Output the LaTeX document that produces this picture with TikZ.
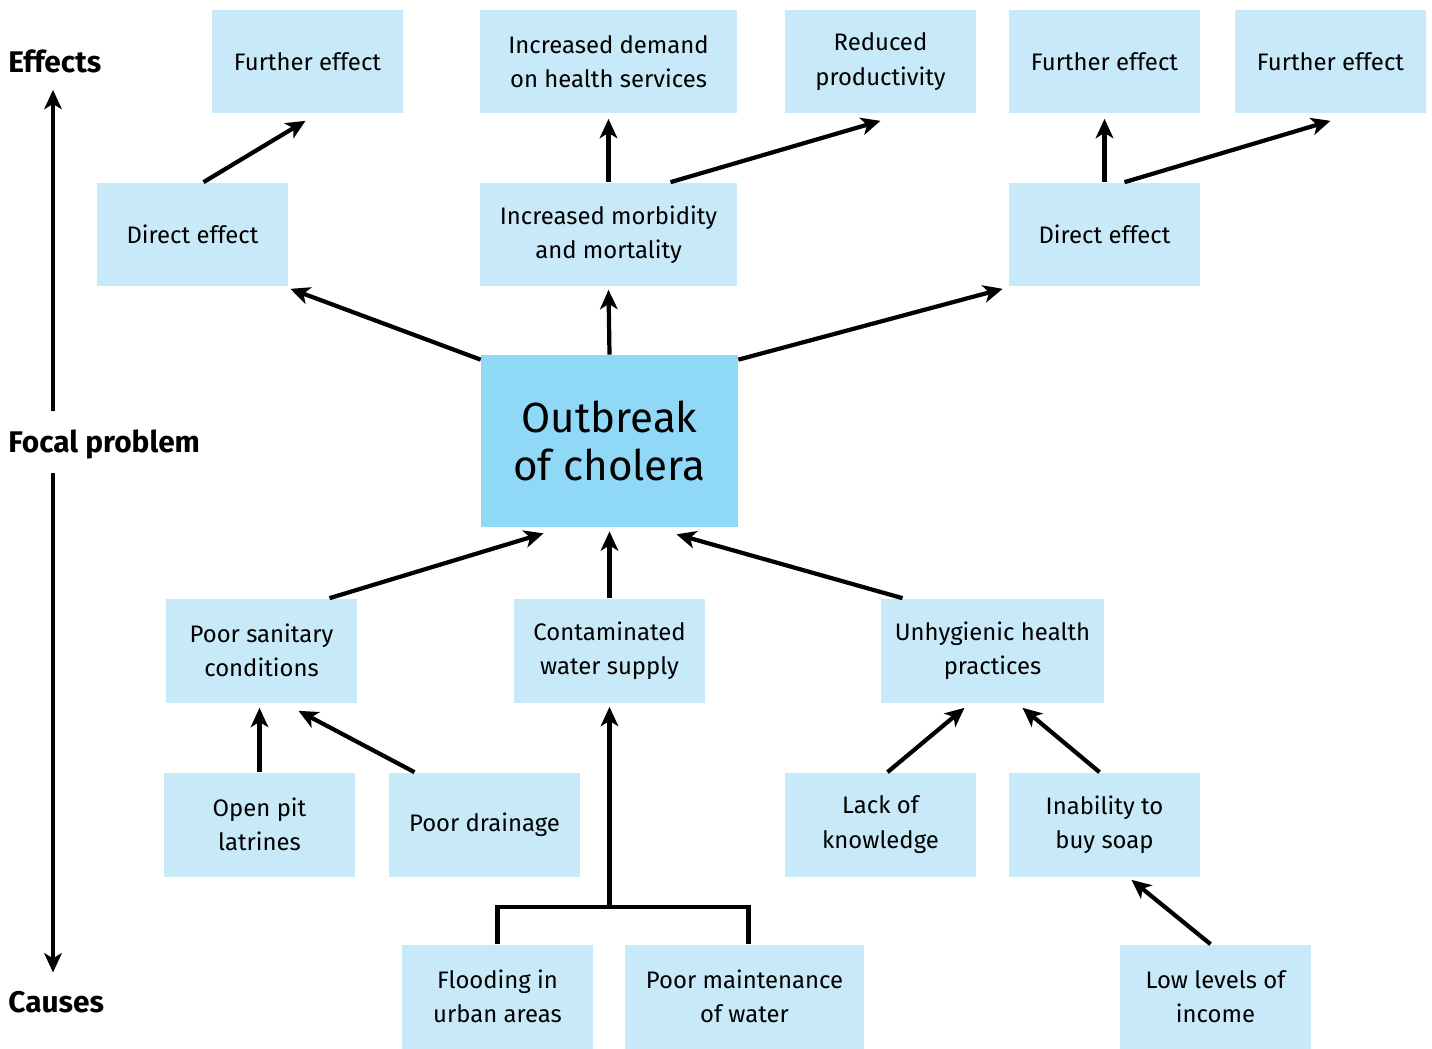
\documentclass[tikz,border=0pt]{standalone}
\usepackage{fontspec}
\setmainfont{Fira Sans}
\usetikzlibrary{calc,arrows.meta}
\definecolor{boxblue}{RGB}{199,233,248}
\definecolor{focusblue}{RGB}{143,216,246}

\begin{document}
\begin{tikzpicture}[x=0.02cm,y=-0.02cm,
  box/.style={fill=boxblue,minimum width=3.82cm,minimum height=2.08cm,align=center,inner sep=0pt,font=\fontsize{13.6}{19.5}\selectfont},
  widebox/.style={box,minimum width=5.14cm},
  focus/.style={fill=focusblue,minimum width=5.14cm,minimum height=3.44cm,align=center,inner sep=0pt,font=\fontsize{24}{27.5}\selectfont},
  arr/.style={-{Stealth[length=11pt,width=10pt,inset=3pt]},line width=2.4pt},
  side/.style={anchor=base west,inner sep=0pt,font=\fontsize{17}{20}\selectfont\bfseries}]
\useasboundingbox (0,0) rectangle (1432,1048);

% side axis
\node[side] (effects) at (8,72) {Effects};
\node[side] (focal) at (8,452) {Focal problem};
\node[side] (causes) at (8,1012) {Causes};
\draw[arr] ($(focal.north west)+(45,-18)$) -- ($(effects.south west)+(45,17)$);
\draw[arr] ($(focal.south west)+(45,14)$) -- ($(causes.north west)+(45,-18)$);

% effects
\node[box] (fea) at (307.5,61.5) {Further effect};
\node[widebox] (dem) at (608.5,61.5) {Increased demand\\on health services};
\node[box] (red) at (880.5,61.5) {Reduced\\productivity};
\node[box] (feb) at (1104.5,61.5) {Further effect};
\node[box] (fec) at (1330.5,61.5) {Further effect};
\node[box] (del) at (192.5,234.5) {Direct effect};
\node[widebox] (im) at (608.5,234.5) {Increased morbidity\\and mortality};
\node[box] (der) at (1104.5,234.5) {Direct effect};

% focal problem
\node[focus] (ob) at (609.5,441) {Outbreak\\of cholera};

% causes
\node[box] (san) at (261.5,650.5) {Poor sanitary\\conditions};
\node[box] (con) at (609.5,650.5) {Contaminated\\water supply};
\node[box,minimum width=4.46cm] (unh) at (992.5,650.5) {Unhygienic health\\practices};
\node[box] (pit) at (259.5,824.5) {Open pit\\latrines};
\node[box] (drn) at (484.5,824.5) {Poor drainage};
\node[box] (lack) at (880.5,824.5) {Lack of\\knowledge};
\node[box] (inab) at (1104.5,824.5) {Inability to\\buy soap};
\node[box] (fld) at (497.5,996.5) {Flooding in\\urban areas};
\node[box,minimum width=4.78cm] (mnt) at (744.5,996.5) {Poor maintenance\\of water};
\node[box] (low) at (1215.5,996.5) {Low levels of\\income};

% effect links
\draw[arr] ($(del.north)+(11,0)$) -- ($(fea.south)+(-2,7)$);
\draw[arr] (im.north) -- ($(dem.south)+(0,5)$);
\draw[arr] ($(im.north)+(62,0)$) -- ($(red.south)+(0,7)$);
\draw[arr] (der.north) -- ($(feb.south)+(0,5)$);
\draw[arr] ($(der.north)+(20,0)$) -- ($(fec.south)+(0,7)$);
\draw[arr] ($(ob.north west)+(0,5)$) -- ($(del.south east)+(2,2)$);
\draw[arr] (ob.north) -- ($(im.south)+(0,3)$);
\draw[arr] ($(ob.north east)+(0,5)$) -- ($(der.south west)+(-6,2)$);

% cause links
\draw[arr] ($(san.north)+(68,0)$) -- ($(ob.south)+(-66,6)$);
\draw[arr] (con.north) -- ($(ob.south)+(0,4)$);
\draw[arr] ($(unh.north)+(-90,0)$) -- ($(ob.south)+(67,7)$);
\draw[arr] (pit.north) -- ($(san.south)+(-2,5)$);
\draw[arr] ($(drn.north)+(-70,0)$) -- ($(san.south)+(37,8)$);
\draw[arr] ($(lack.north)+(7,0)$) -- ($(unh.south)+(-28,5)$);
\draw[arr] ($(inab.north)+(-5,0)$) -- ($(unh.south)+(30,5)$);
\draw[arr] ($(low.north)+(-5,0)$) -- ($(inab.south)+(27,3)$);

% bracket under water supply
\coordinate (join) at ($(con.south |- fld.north)+(0,-37)$);
\draw[line width=2.4pt] (fld.north) |- ($(mnt.north)+(4,-37)$) -- ($(mnt.north)+(4,0)$);
\draw[arr] (join) -- ($(con.south)+(0,4)$);
\end{tikzpicture}
\end{document}
